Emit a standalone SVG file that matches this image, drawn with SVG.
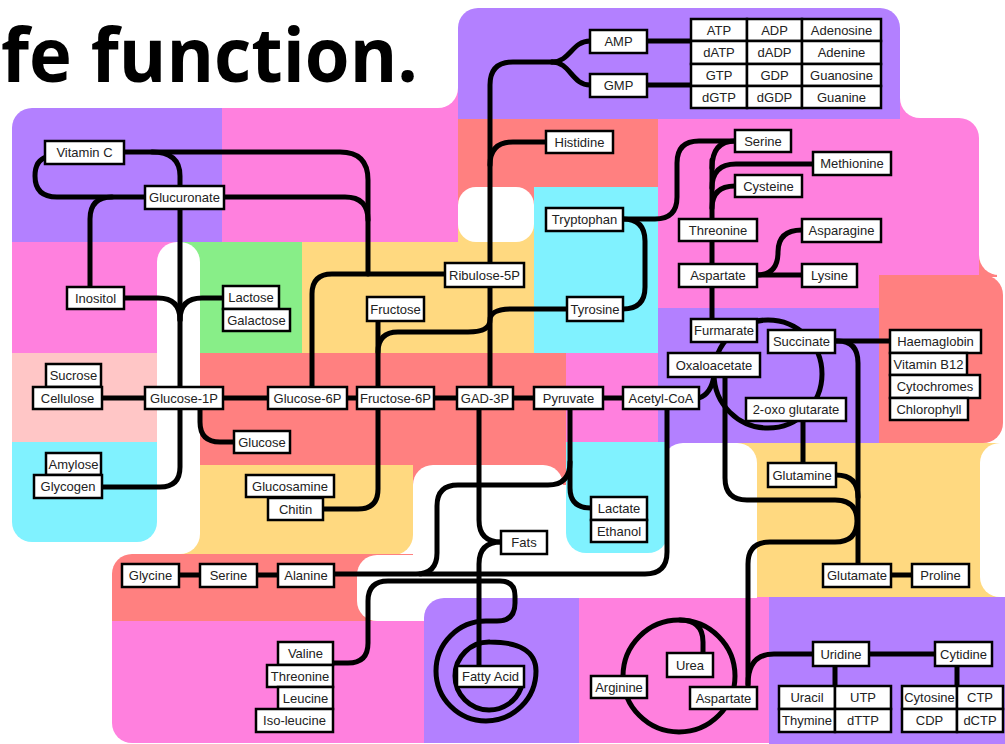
<svg xmlns="http://www.w3.org/2000/svg" width="1005" height="744" viewBox="0 0 1005 744">
<style>
.pu{fill:#b380ff}.pk{fill:#ff80de}.rd{fill:#ff8080}.ye{fill:#ffd980}.gr{fill:#88ee88}.cy{fill:#80f2ff}.lp{fill:#ffc6c6}.wh{fill:#ffffff}
.c{fill:none;stroke:#000;stroke-width:5;stroke-linecap:round;stroke-linejoin:round}
.b{fill:#fff;stroke:#000;stroke-width:2.5}
.t{font-family:"Liberation Sans",Arial,sans-serif;font-size:13px;fill:#222;text-anchor:middle}
.title{font-family:"Open Sans","DejaVu Sans",sans-serif;font-weight:700;font-size:75px;fill:#000}
</style>
<rect width="1005" height="744" fill="#fff"/>
<g id="background">
<path class="pu" d="M12,128 A20,20 0 0 1 32,108 H222 V242 H12 Z"/>
<rect class="ye" x="302" y="224" width="232" height="129"/>
<rect class="rd" x="458" y="119" width="200" height="86"/>
<rect class="pk" x="222" y="88" width="236" height="154"/>
<rect class="cy" x="534" y="187" width="124" height="166"/>
<rect class="rd" x="975" y="255" width="22" height="22"/>
<path class="pk" d="M658,98 H959 V118 A20,20 0 0 1 979,138 V275 H879 V308 H658 Z"/>
<path class="pu" d="M458,28 A20,20 0 0 1 478,8 H880 A20,20 0 0 1 900,28 V119 H458 Z"/>
<rect class="pk" x="12" y="242" width="168" height="111"/>
<rect class="gr" x="180" y="242" width="122" height="111"/>
<rect class="lp" x="12" y="353" width="145" height="89"/>
<path class="cy" d="M12,442 H157 V522 A20,20 0 0 1 137,542 H32 A20,20 0 0 1 12,522 Z"/>
<rect class="rd" x="200" y="353" width="366" height="132"/>
<path class="ye" d="M180,465 H413 V535 A20,20 0 0 1 393,555 H180 Z"/>
<rect class="pk" x="566" y="353" width="92" height="89"/>
<rect class="pu" x="658" y="308" width="221" height="152"/>
<path class="rd" d="M879,275 H983 A20,20 0 0 1 1003,295 V423 A20,20 0 0 1 983,443 H879 Z"/>
<rect class="ye" x="737" y="443" width="263" height="167"/>
<rect class="pk" x="579" y="597" width="190" height="146"/>
<rect class="pu" x="769" y="597" width="236" height="147"/>
<path class="rd" d="M112,574 A20,20 0 0 1 132,554 H440 V621 H112 Z"/>
<path class="pk" d="M112,621 H424 V743 H132 A20,20 0 0 1 112,723 Z"/>
<rect class="wh" x="-40" y="-40" width="498" height="148" rx="20"/>
<rect class="wh" x="900" y="-40" width="200" height="158" rx="20"/>
<rect class="wh" x="979" y="-40" width="100" height="315" rx="20"/>
<rect class="wh" x="980" y="443" width="100" height="154" rx="20"/>
<rect class="wh" x="458" y="187" width="76" height="55" rx="18"/>
<path class="wh" d="M157,262 A20,20 0 0 1 177,242 H180 A20,20 0 0 1 200,262 V534 A20,20 0 0 1 180,554 H157 Z"/>
<path class="wh" d="M413,485 A20,20 0 0 1 433,465 H543 A20,20 0 0 1 563,485 V598 H413 Z"/>
<path class="wh" d="M357,575 A20,20 0 0 1 377,555 H440 V621 H377 A20,20 0 0 1 357,601 Z"/>
<rect class="wh" x="540" y="540" width="217" height="58"/>
<path class="wh" d="M663,463 A20,20 0 0 1 683,443 H737 A20,20 0 0 1 757,463 V577 A20,20 0 0 1 737,597 H663 Z"/>
<path class="cy" d="M566,442 H668 V533 A20,20 0 0 1 648,553 H586 A20,20 0 0 1 566,533 Z"/>
<path class="pu" d="M424,618 A20,20 0 0 1 444,598 H579 V743 H424 Z"/>
</g>
<text class="title" x="1" y="82" textLength="417" lengthAdjust="spacingAndGlyphs">fe function.</text>
<g id="connectors">
<path class="c" d="M124,152 H340 Q368,152 368,180 V274"/>
<path class="c" d="M224,197 H345 Q368,197 368,220"/>
<path class="c" d="M152,152 Q180,152 180,176 V186"/>
<path class="c" d="M47,157 Q35,160 35,176 Q35,197 57,197 H145"/>
<path class="c" d="M112,197 Q90,197 90,219 V287"/>
<path class="c" d="M180,209 V387"/>
<path class="c" d="M124,298 H158 Q180,298 180,320"/>
<path class="c" d="M223,298 H202 Q180,298 180,320"/>
<path class="c" d="M102,398 H623"/>
<path class="c" d="M180,409 V467 Q180,487 160,487 H102"/>
<path class="c" d="M200,409 V422 Q200,442 220,442 H234"/>
<path class="c" d="M312,387 V294 Q312,274 332,274 H445"/>
<path class="c" d="M378,321 V387"/>
<path class="c" d="M567,309 H512 Q490,309 490,320 Q490,332 468,332 H398 Q378,332 378,352"/>
<path class="c" d="M378,409 V489 Q378,509 358,509 H323"/>
<path class="c" d="M490,387 V85 Q490,62 513,62 H552"/>
<path class="c" d="M552,62 C570,62 572,41 590,41"/>
<path class="c" d="M552,62 C570,62 572,85 590,85"/>
<path class="c" d="M647,41 H691"/>
<path class="c" d="M647,85 H691"/>
<path class="c" d="M490,165 Q490,142 513,142 H546"/>
<path class="c" d="M623,219 Q645,219 645,241 V287 Q645,309 623,309"/>
<path class="c" d="M623,219 H655 Q677,219 677,197 V163 Q677,141 699,141 H735"/>
<path class="c" d="M479,409 V520 Q479,542 501,542"/>
<path class="c" d="M501,542 Q479,542 479,564 V666"/>
<path class="c" d="M570,409 V488 Q570,508 591,508"/>
<path class="c" d="M570,462 Q570,485 548,485 H458 Q437,485 437,506 V553 Q437,574 416,574 H334"/>
<path class="c" d="M667,409 V552 Q667,574 645,574 H420"/>
<path class="c" d="M333,663 H348 Q368,663 368,643 V601 Q368,581 388,581 H500 Q515,581 515,596 V603 Q515,621 497,621 H486 A50,50 0 0 0 436,671 A50,50 0 0 0 486,721 A50,50 0 0 0 536,671 C536,652 520,642 490,642 A34,34 0 0 0 455,676 A34,34 0 0 0 489,710 A34,34 0 0 0 521,688"/>
<path class="c" d="M179,575 H278"/>
<path class="c" d="M712,160 V319"/>
<path class="c" d="M712,168 Q712,141 735,141"/>
<path class="c" d="M712,188 Q712,164 736,164 H813"/>
<path class="c" d="M712,208 Q712,186 735,186"/>
<path class="c" d="M757,275 H802"/>
<path class="c" d="M802,230 Q778,230 778,252 Q778,275 757,275"/>
<circle class="c" cx="768" cy="374" r="54"/>
<path class="c" d="M699,398 Q711,394 714,376"/>
<path class="c" d="M725,377 V478 Q725,500 747,500 H835 Q857,500 857,521 Q857,542 835,542 H770 Q748,542 748,564 V687"/>
<path class="c" d="M835,341 H890"/>
<path class="c" d="M835,341 H838 Q858,341 858,363 V564"/>
<path class="c" d="M803,421 V463"/>
<path class="c" d="M836,475 Q858,475 858,497"/>
<path class="c" d="M891,575 H912"/>
<circle class="c" cx="679" cy="676" r="56"/>
<path class="c" d="M703,653 V642 Q703,620 680,620"/>
<path class="c" d="M748,684 Q748,654 774,654 H813"/>
<path class="c" d="M869,654 H935"/>
<path class="c" d="M835,666 V686"/>
<path class="c" d="M957,666 V686"/>
</g>
<g id="n-vitaminc"><rect class="b" x="45" y="141" width="79" height="23"/><text class="t" x="84.5" y="157">Vitamin C</text></g>
<g id="n-glucuronate"><rect class="b" x="145" y="186" width="79" height="23"/><text class="t" x="184.5" y="202">Glucuronate</text></g>
<g id="n-inositol"><rect class="b" x="67" y="287" width="57" height="22"/><text class="t" x="95.5" y="302.5">Inositol</text></g>
<g id="n-lactose"><rect class="b" x="223" y="286" width="56" height="23"/><text class="t" x="251" y="302">Lactose</text></g>
<g id="n-galactose"><rect class="b" x="223" y="309" width="67" height="22"/><text class="t" x="256.5" y="324.5">Galactose</text></g>
<g id="n-sucrose"><rect class="b" x="46" y="364" width="55" height="23"/><text class="t" x="73.5" y="380">Sucrose</text></g>
<g id="n-cellulose"><rect class="b" x="33" y="387" width="69" height="22"/><text class="t" x="67.5" y="402.5">Cellulose</text></g>
<g id="n-glucose1p"><rect class="b" x="145" y="387" width="78" height="22"/><text class="t" x="184" y="402.5">Glucose-1P</text></g>
<g id="n-glucose6p"><rect class="b" x="268" y="387" width="79" height="22"/><text class="t" x="307.5" y="402.5">Glucose-6P</text></g>
<g id="n-fructose6p"><rect class="b" x="357" y="387" width="77" height="22"/><text class="t" x="395.5" y="402.5">Fructose-6P</text></g>
<g id="n-gad3p"><rect class="b" x="457" y="387" width="56" height="22"/><text class="t" x="485" y="402.5">GAD-3P</text></g>
<g id="n-pyruvate"><rect class="b" x="534" y="387" width="69" height="22"/><text class="t" x="568.5" y="402.5">Pyruvate</text></g>
<g id="n-acetylcoa"><rect class="b" x="623" y="387" width="76" height="22"/><text class="t" x="661" y="402.5">Acetyl-CoA</text></g>
<g id="n-ribulose5p"><rect class="b" x="445" y="263" width="79" height="24"/><text class="t" x="484.5" y="279.5">Ribulose-5P</text></g>
<g id="n-fructose"><rect class="b" x="367" y="297" width="57" height="24"/><text class="t" x="395.5" y="313.5">Fructose</text></g>
<g id="n-tyrosine"><rect class="b" x="567" y="297" width="56" height="24"/><text class="t" x="595" y="313.5">Tyrosine</text></g>
<g id="n-glucose"><rect class="b" x="234" y="431" width="56" height="22"/><text class="t" x="262" y="446.5">Glucose</text></g>
<g id="n-amylose"><rect class="b" x="46" y="453" width="55" height="22"/><text class="t" x="73.5" y="468.5">Amylose</text></g>
<g id="n-glycogen"><rect class="b" x="34" y="475" width="68" height="23"/><text class="t" x="68" y="491">Glycogen</text></g>
<g id="n-glucosamine"><rect class="b" x="246" y="475" width="88" height="22"/><text class="t" x="290" y="490.5">Glucosamine</text></g>
<g id="n-chitin"><rect class="b" x="268" y="498" width="55" height="22"/><text class="t" x="295.5" y="513.5">Chitin</text></g>
<g id="n-glycine"><rect class="b" x="122" y="564" width="57" height="23"/><text class="t" x="150.5" y="580">Glycine</text></g>
<g id="n-serine2"><rect class="b" x="200" y="564" width="57" height="23"/><text class="t" x="228.5" y="580">Serine</text></g>
<g id="n-alanine"><rect class="b" x="278" y="564" width="56" height="23"/><text class="t" x="306" y="580">Alanine</text></g>
<g id="n-valine"><rect class="b" x="278" y="642" width="55" height="23"/><text class="t" x="305.5" y="658">Valine</text></g>
<g id="n-threonine2"><rect class="b" x="267" y="665" width="66" height="22"/><text class="t" x="300" y="680.5">Threonine</text></g>
<g id="n-leucine"><rect class="b" x="278" y="687" width="55" height="22"/><text class="t" x="305.5" y="702.5">Leucine</text></g>
<g id="n-isoleucine"><rect class="b" x="256" y="709" width="77" height="23"/><text class="t" x="294.5" y="725">Iso-leucine</text></g>
<g id="n-fats"><rect class="b" x="501" y="531" width="46" height="23"/><text class="t" x="524" y="547">Fats</text></g>
<g id="n-lactate"><rect class="b" x="591" y="497" width="56" height="23"/><text class="t" x="619" y="513">Lactate</text></g>
<g id="n-ethanol"><rect class="b" x="591" y="520" width="56" height="22"/><text class="t" x="619" y="535.5">Ethanol</text></g>
<g id="n-fattyacid"><rect class="b" x="457" y="666" width="67" height="21"/><text class="t" x="490.5" y="681">Fatty Acid</text></g>
<g id="n-arginine"><rect class="b" x="591" y="676" width="56" height="22"/><text class="t" x="619" y="691.5">Arginine</text></g>
<g id="n-urea"><rect class="b" x="667" y="653" width="46" height="24"/><text class="t" x="690" y="669.5">Urea</text></g>
<g id="n-aspartate2"><rect class="b" x="690" y="687" width="67" height="22"/><text class="t" x="723.5" y="702.5">Aspartate</text></g>
<g id="n-uridine"><rect class="b" x="813" y="642" width="56" height="24"/><text class="t" x="841" y="658.5">Uridine</text></g>
<g id="n-cytidine"><rect class="b" x="935" y="642" width="57" height="24"/><text class="t" x="963.5" y="658.5">Cytidine</text></g>
<g id="n-glutamate"><rect class="b" x="823" y="564" width="68" height="23"/><text class="t" x="857" y="580">Glutamate</text></g>
<g id="n-proline"><rect class="b" x="912" y="564" width="57" height="23"/><text class="t" x="940.5" y="580">Proline</text></g>
<g id="n-glutamine"><rect class="b" x="768" y="463" width="68" height="24"/><text class="t" x="802" y="479.5">Glutamine</text></g>
<g id="n-oxoglutarate"><rect class="b" x="746" y="398" width="100" height="23"/><text class="t" x="796" y="414">2-oxo glutarate</text></g>
<g id="n-furmarate"><rect class="b" x="691" y="319" width="66" height="23"/><text class="t" x="724" y="335">Furmarate</text></g>
<g id="n-succinate"><rect class="b" x="768" y="330" width="67" height="23"/><text class="t" x="801.5" y="346">Succinate</text></g>
<g id="n-oxaloacetate"><rect class="b" x="668" y="353" width="92" height="24"/><text class="t" x="714" y="369.5">Oxaloacetate</text></g>
<g id="n-haemaglobin"><rect class="b" x="890" y="330" width="91" height="23"/><text class="t" x="935.5" y="346">Haemaglobin</text></g>
<g id="n-vitaminb12"><rect class="b" x="890" y="353" width="77" height="22"/><text class="t" x="928.5" y="368.5">Vitamin B12</text></g>
<g id="n-cytochromes"><rect class="b" x="890" y="375" width="90" height="23"/><text class="t" x="935" y="391">Cytochromes</text></g>
<g id="n-chlorophyll"><rect class="b" x="890" y="398" width="78" height="22"/><text class="t" x="929" y="413.5">Chlorophyll</text></g>
<g id="n-aspartate1"><rect class="b" x="679" y="264" width="78" height="23"/><text class="t" x="718" y="280">Aspartate</text></g>
<g id="n-lysine"><rect class="b" x="802" y="264" width="55" height="23"/><text class="t" x="829.5" y="280">Lysine</text></g>
<g id="n-serine1"><rect class="b" x="735" y="130" width="56" height="22"/><text class="t" x="763" y="145.5">Serine</text></g>
<g id="n-methionine"><rect class="b" x="813" y="152" width="78" height="23"/><text class="t" x="852" y="168">Methionine</text></g>
<g id="n-cysteine"><rect class="b" x="735" y="175" width="67" height="22"/><text class="t" x="768.5" y="190.5">Cysteine</text></g>
<g id="n-threonine1"><rect class="b" x="679" y="219" width="78" height="22"/><text class="t" x="718" y="234.5">Threonine</text></g>
<g id="n-asparagine"><rect class="b" x="802" y="219" width="79" height="23"/><text class="t" x="841.5" y="235">Asparagine</text></g>
<g id="n-amp"><rect class="b" x="590" y="30" width="57" height="23"/><text class="t" x="618.5" y="46">AMP</text></g>
<g id="n-gmp"><rect class="b" x="590" y="74" width="57" height="23"/><text class="t" x="618.5" y="90">GMP</text></g>
<g id="n-histidine"><rect class="b" x="546" y="131" width="67" height="22"/><text class="t" x="579.5" y="146.5">Histidine</text></g>
<g id="n-tryptophan"><rect class="b" x="546" y="208" width="77" height="23"/><text class="t" x="584.5" y="224">Tryptophan</text></g>
<g id="n-nucleotides">
<rect class="b" x="691" y="19" width="56" height="22"/><rect class="b" x="747" y="19" width="55" height="22"/><rect class="b" x="802" y="19" width="79" height="22"/>
<rect class="b" x="691" y="41" width="56" height="23"/><rect class="b" x="747" y="41" width="55" height="23"/><rect class="b" x="802" y="41" width="79" height="23"/>
<rect class="b" x="691" y="64" width="56" height="22"/><rect class="b" x="747" y="64" width="55" height="22"/><rect class="b" x="802" y="64" width="79" height="22"/>
<rect class="b" x="691" y="86" width="56" height="22"/><rect class="b" x="747" y="86" width="55" height="22"/><rect class="b" x="802" y="86" width="79" height="22"/>
<text class="t" x="719" y="34.5">ATP</text><text class="t" x="774.5" y="34.5">ADP</text><text class="t" x="841.5" y="34.5">Adenosine</text>
<text class="t" x="719" y="57">dATP</text><text class="t" x="774.5" y="57">dADP</text><text class="t" x="841.5" y="57">Adenine</text>
<text class="t" x="719" y="79.5">GTP</text><text class="t" x="774.5" y="79.5">GDP</text><text class="t" x="841.5" y="79.5">Guanosine</text>
<text class="t" x="719" y="101.5">dGTP</text><text class="t" x="774.5" y="101.5">dGDP</text><text class="t" x="841.5" y="101.5">Guanine</text>
</g>
<g id="n-uridine-table">
<rect class="b" x="779" y="686" width="56" height="23"/><rect class="b" x="835" y="686" width="56" height="23"/>
<rect class="b" x="779" y="709" width="56" height="23"/><rect class="b" x="835" y="709" width="56" height="23"/>
<text class="t" x="807" y="702">Uracil</text><text class="t" x="863" y="702">UTP</text>
<text class="t" x="807" y="725">Thymine</text><text class="t" x="863" y="725">dTTP</text>
</g>
<g id="n-cytidine-table">
<rect class="b" x="902" y="686" width="55" height="23"/><rect class="b" x="957" y="686" width="46" height="23"/>
<rect class="b" x="902" y="709" width="55" height="23"/><rect class="b" x="957" y="709" width="46" height="23"/>
<text class="t" x="929.5" y="702">Cytosine</text><text class="t" x="980" y="702">CTP</text>
<text class="t" x="929.5" y="725">CDP</text><text class="t" x="980" y="725">dCTP</text>
</g>
</svg>
